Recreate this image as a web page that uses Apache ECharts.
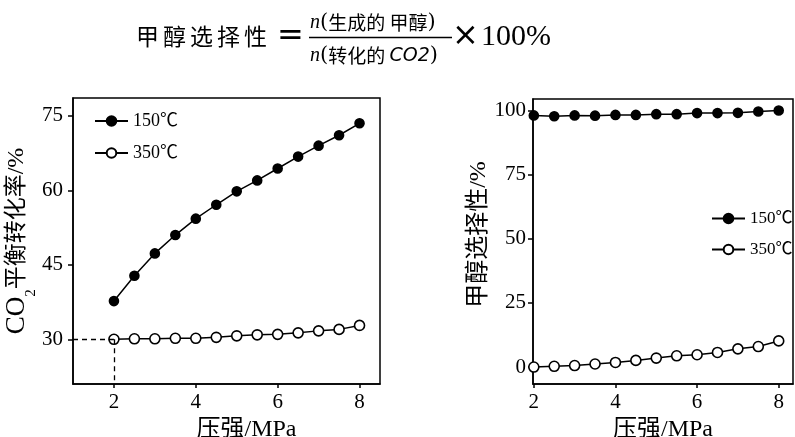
<!DOCTYPE html>
<html>
<head>
<meta charset="utf-8">
<script src="https://cdn.jsdelivr.net/npm/echarts@6/dist/echarts.min.js"></script>
<style>html,body{margin:0;padding:0;background:#fff;}#c{width:795px;height:437px;}</style>
</head>
<body>
<div id="c"></div>
<script>
// ---- data ----
const pressure = [2, 2.5, 3, 3.5, 4, 4.5, 5, 5.5, 6, 6.5, 7, 7.5, 8];
const conv150 = [37.7, 42.8, 47.3, 51.0, 54.3, 57.1, 59.8, 62.0, 64.4, 66.8, 69.0, 71.1, 73.5];
const conv350 = [30.0, 30.1, 30.1, 30.2, 30.2, 30.4, 30.7, 30.9, 31.0, 31.3, 31.7, 32.0, 32.8];
const sel150 = [98.1, 97.8, 98.1, 98.0, 98.3, 98.3, 98.6, 98.6, 99.0, 99.0, 99.1, 99.6, 100.0];
const sel350 = [0.0, 0.3, 0.6, 1.2, 1.8, 2.6, 3.5, 4.4, 4.8, 5.7, 7.1, 8.0, 10.2];
const seriesNames = ['150℃', '350℃'];
const xTicks = [2, 4, 6, 8];
const leftYTicks = [30, 45, 60, 75];
const rightYTicks = [0, 25, 50, 75, 100];
const leftXRange = [1, 8.5];
const leftYRange = [21, 78.6];
const rightXRange = [1.98, 8.35];
const rightYRange = [-6.6, 104.5];

const pairs = (ys) => pressure.map((x, i) => [x, ys[i]]);
const serif = '"Liberation Serif", "Noto Sans CJK SC", serif';
const black = '#000';

function xAxis(idx, range, nameShift) {
  return {
    type: 'value', gridIndex: idx, min: range[0], max: range[1],
    name: '压强/MPa', nameLocation: 'middle', nameGap: 34,
    nameTextStyle: { fontFamily: serif, fontSize: 24, color: black, padding: [0, 0, 0, nameShift] },
    axisLine: { show: true, onZero: false, lineStyle: { color: black, width: 1.5 } },
    axisTick: { show: true, inside: false, length: 4, customValues: xTicks, lineStyle: { color: black, width: 1.5 } },
    axisLabel: { customValues: xTicks, margin: 8, fontFamily: serif, fontSize: 21, color: black },
    splitLine: { show: false }
  };
}
function yAxis(idx, range, ticks, name, gap, margin, size, shift) {
  return {
    type: 'value', gridIndex: idx, min: range[0], max: range[1],
    name: name, nameLocation: 'middle', nameGap: gap,
    nameTextStyle: {
      fontFamily: serif, fontSize: size, color: black, padding: [0, 0, 0, shift],
      rich: {
        co: { fontFamily: serif, fontSize: 27, color: black },
        sub: { fontFamily: serif, fontSize: 15, color: black, verticalAlign: 'bottom', padding: [0, 0, -8, 0] },
        pc: { fontFamily: serif, fontSize: 24, color: black }
      }
    },
    axisLine: { show: true, onZero: false, lineStyle: { color: black, width: 1.5 } },
    axisTick: { show: true, inside: false, length: 5, customValues: ticks, lineStyle: { color: black, width: 1.5 } },
    axisLabel: { customValues: ticks, margin: margin, fontFamily: serif, fontSize: 21, color: black },
    splitLine: { show: false }
  };
}
function lineSeries(name, xi, data, filled, extra) {
  return Object.assign({
    name: name, type: 'line', xAxisIndex: xi, yAxisIndex: xi, data: data,
    symbol: 'circle', symbolSize: filled ? 9 : 10,
    lineStyle: { color: black, width: 1.5 },
    itemStyle: { color: filled ? black : '#fff', borderColor: black, borderWidth: 1.6 },
    emphasis: { disabled: true }, animation: false, z: 3
  }, extra || {});
}

// formula graphics
const g = [];
const titleChars = ['甲', '醇', '选', '择', '性'];
titleChars.forEach((ch, i) => {
  g.push({ type: 'text', x: 136 + i * 27, y: 36, style: { text: ch, font: '23px "Noto Sans CJK SC"', fill: black, align: 'left', verticalAlign: 'middle' } });
});
g.push({ type: 'text', x: 277, y: 37, style: { text: '=', font: '32px "DejaVu Sans"', fill: black, align: 'left', verticalAlign: 'middle' } });
const fracRich = {
  i: { font: 'italic 20px "Liberation Serif"', fill: black },
  ci: { font: 'italic 19px "DejaVu Sans"', fill: black },
  b: { font: '21px "DejaVu Serif"', fill: black },
  p: { font: '19px "Noto Sans CJK SC"', fill: black }
};
g.push({ type: 'text', x: 310, y: 23, style: { text: '{i|n}{b|(}{p|生成的 甲醇}{b|)}', rich: fracRich, align: 'left', verticalAlign: 'middle' } });
g.push({ type: 'line', shape: { x1: 309, y1: 37.5, x2: 452, y2: 37.5 }, style: { stroke: black, lineWidth: 1.3 } });
g.push({ type: 'text', x: 310, y: 56, style: { text: '{i|n}{b|(}{p|转化的 }{ci|CO2}{b|)}', rich: fracRich, align: 'left', verticalAlign: 'middle' } });
g.push({ type: 'text', x: 452, y: 37, style: { text: '×', font: '32px "DejaVu Sans"', fill: black, align: 'left', verticalAlign: 'middle' } });
g.push({ type: 'text', x: 481, y: 37, style: { text: '100%', font: '30px "Liberation Serif"', fill: black, align: 'left', verticalAlign: 'middle' } });

const chart = echarts.init(document.getElementById('c'), null, { renderer: 'canvas' });
chart.setOption({
  backgroundColor: '#fff',
  animation: false,
  graphic: g,
  legend: [
    { data: seriesNames, orient: 'vertical', left: 89, top: 107, itemWidth: 33, itemHeight: 12, itemGap: 14,
      textStyle: { fontFamily: serif, fontSize: 18, color: black }, selectedMode: false },
    { data: seriesNames, orient: 'vertical', left: 706, top: 205, itemWidth: 33, itemHeight: 12, itemGap: 14,
      textStyle: { fontFamily: serif, fontSize: 17, color: black }, selectedMode: false }
  ],
  grid: [
    { left: 73, top: 98, width: 307, height: 286, show: true, borderColor: black, borderWidth: 1.5, containLabel: false, outerBoundsMode: 'none' },
    { left: 533, top: 99, width: 260, height: 285, show: true, borderColor: black, borderWidth: 1.5, containLabel: false, outerBoundsMode: 'none' }
  ],
  xAxis: [xAxis(0, leftXRange, 40), xAxis(1, rightXRange, 0)],
  yAxis: [
    yAxis(0, leftYRange, leftYTicks, '{co|CO}{sub|2}平衡转化率{pc|/%}', 38, 10, 23, 0),
    yAxis(1, rightYRange, rightYTicks, '甲醇选择性/%', 42, 7, 24, 14)
  ],
  series: [
    lineSeries(seriesNames[0], 0, pairs(conv150), true),
    lineSeries(seriesNames[1], 0, pairs(conv350), false, {
      markLine: {
        silent: true, symbol: 'none', animation: false,
        label: { show: false },
        lineStyle: { color: black, type: [5, 4], width: 1.3 },
        data: [
          [{ coord: [leftXRange[0], conv350[0]] }, { coord: [pressure[0], conv350[0]] }],
          [{ coord: [pressure[0], conv350[0]] }, { coord: [pressure[0], leftYRange[0]] }]
        ]
      }
    }),
    lineSeries(seriesNames[0], 1, pairs(sel150), true),
    lineSeries(seriesNames[1], 1, pairs(sel350), false)
  ]
});
</script>
</body>
</html>
